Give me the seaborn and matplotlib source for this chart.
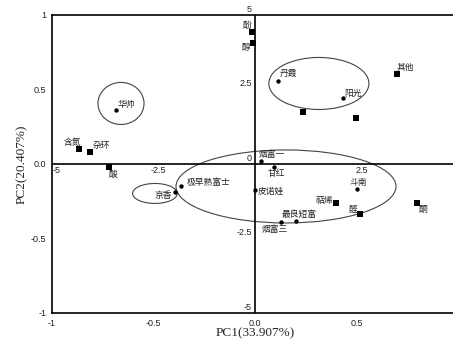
import numpy as np
import pandas as pd
import matplotlib
matplotlib.use('Agg')
import matplotlib.pyplot as plt
import seaborn as sns
from matplotlib.patches import Ellipse

# cultivars (scores, scaled to loading axes)
cultivars = ['华帅', '丹霞', '阳光', '烟富一', '甘红', '皮诺娃', '斗南',
             '最良短富', '烟富三', '极早熟富士', '京香']
cult_x = [-0.683, 0.115, 0.432, 0.030, 0.095, 0.000, 0.504, 0.200, 0.128, -0.366, -0.394]
cult_y = [0.359, 0.556, 0.444, 0.023, -0.019, -0.173, -0.166, -0.386, -0.388, -0.149, -0.187]

# aroma compound classes (loadings)
compounds = ['酚', '醇', '含氮', '杂环', '酸', '其他', '', ' ', '萜烯', '醛', '酮']
comp_x = [-0.013, -0.008, -0.865, -0.811, -0.718, 0.698, 0.238, 0.498, 0.399, 0.517, 0.798]
comp_y = [0.887, 0.813, 0.102, 0.082, -0.021, 0.601, 0.348, 0.310, -0.263, -0.334, -0.263]

# cluster ellipses: centre x, centre y, width, height
ell_x = [-0.660, 0.315, 0.153, -0.493]
ell_y = [0.406, 0.540, -0.151, -0.198]
ell_w = [0.227, 0.493, 1.084, 0.220]
ell_h = [0.282, 0.349, 0.490, 0.134]

# secondary (score) scale
score_ticks = [-5, -2.5, 0, 2.5, 5]

# label placement: (dx px, dy px, ha)
label_pos = {
    '华帅': (1, 6, 'left'), '丹霞': (1, 8, 'left'), '阳光': (2, 4, 'left'),
    '烟富一': (-2, 6, 'left'), '甘红': (2, -7, 'center'), '皮诺娃': (3, -2, 'left'),
    '斗南': (1, 6, 'center'), '最良短富': (4, 7, 'center'), '烟富三': (-6, -8, 'center'),
    '极早熟富士': (6, 4, 'left'), '京香': (-3, -4, 'right'),
    '酚': (-1, 6, 'right'), '醇': (-3, -5, 'right'), '含氮': (-7, 6, 'center'),
    '杂环': (2, 6, 'left'), '酸': (4, -7, 'center'), '其他': (0, 7, 'left'),
    '萜烯': (-3, 3, 'right'), '醛': (-3, 4, 'right'), '酮': (2, -6, 'left'),
}

cult = pd.DataFrame({'name': cultivars, 'x': cult_x, 'y': cult_y})
comp = pd.DataFrame({'name': compounds, 'x': comp_x, 'y': comp_y})

sns.set_theme(style='white')
plt.rcParams['font.family'] = ['Liberation Sans', 'DejaVu Sans']
cjk = ['Noto Sans CJK SC', 'DejaVu Sans']

fig = plt.figure(figsize=(4.53, 3.43), dpi=100)
ax = fig.add_axes([0.1148, 0.0875, 0.896, 0.869])

sns.scatterplot(data=cult, x='x', y='y', marker='o', s=10, color='black',
                edgecolor='black', linewidth=0, ax=ax, legend=False, zorder=3)
sns.scatterplot(data=comp, x='x', y='y', marker='s', s=14, color='black',
                edgecolor='black', linewidth=0, ax=ax, legend=False, zorder=3)

for df in (cult, comp):
    for _, r in df.iterrows():
        if r['name'].strip() == '':
            continue
        dx, dy, ha = label_pos[r['name']]
        ax.annotate(r['name'], (r['x'], r['y']), xytext=(dx, dy),
                    textcoords='offset pixels', ha=ha, va='center',
                    fontsize=6.3, family=cjk, color='#222222')

for cx, cy, w, h in zip(ell_x, ell_y, ell_w, ell_h):
    ax.add_patch(Ellipse((cx, cy), w, h, fill=False, edgecolor='#444444', lw=0.8))

ax.axhline(0, color='black', lw=1.2, zorder=2)
ax.axvline(0, color='black', lw=1.2, zorder=2)

# score scale labels along the centre lines
for t in score_ticks:
    ax.annotate(f'{t:g}', (0, t / 5), xytext=(-3, 1), textcoords='offset pixels',
                ha='right', va='bottom', fontsize=6.5, color='#222222',
                annotation_clip=False)
    if t == -5:
        ax.annotate(f'{t:g}', (t / 5, 0), xytext=(1, -2), textcoords='offset pixels',
                    ha='left', va='top', fontsize=6.5, color='#222222',
                    annotation_clip=False)
    elif t != 0 and t != 5:
        ax.annotate(f'{t:g}', (t / 5, 0), xytext=(5, -2), textcoords='offset pixels',
                    ha='center', va='top', fontsize=6.5, color='#222222',
                    annotation_clip=False)

ax.set_xlim(-1, 1)
ax.set_ylim(-1, 1)
ax.set_xticks([-1, -0.5, 0, 0.5])
ax.set_xticklabels(['-1', '-0.5', '0.0', '0.5'])
ax.set_yticks([-1, -0.5, 0, 0.5, 1])
ax.set_yticklabels(['-1', '-0.5', '0.0', '0.5', '1'])
ax.tick_params(labelsize=6.5, length=2, pad=2, colors='#222222')
for s in ax.spines.values():
    s.set_color('black')
    s.set_linewidth(1.2)

ax.set_xlabel('PC1(33.907%)', family='Liberation Serif', fontsize=9.5, labelpad=0)
ax.set_ylabel('PC2(20.407%)', family='Liberation Serif', fontsize=9.5, labelpad=2)

fig.savefig('out.png', dpi=100)
